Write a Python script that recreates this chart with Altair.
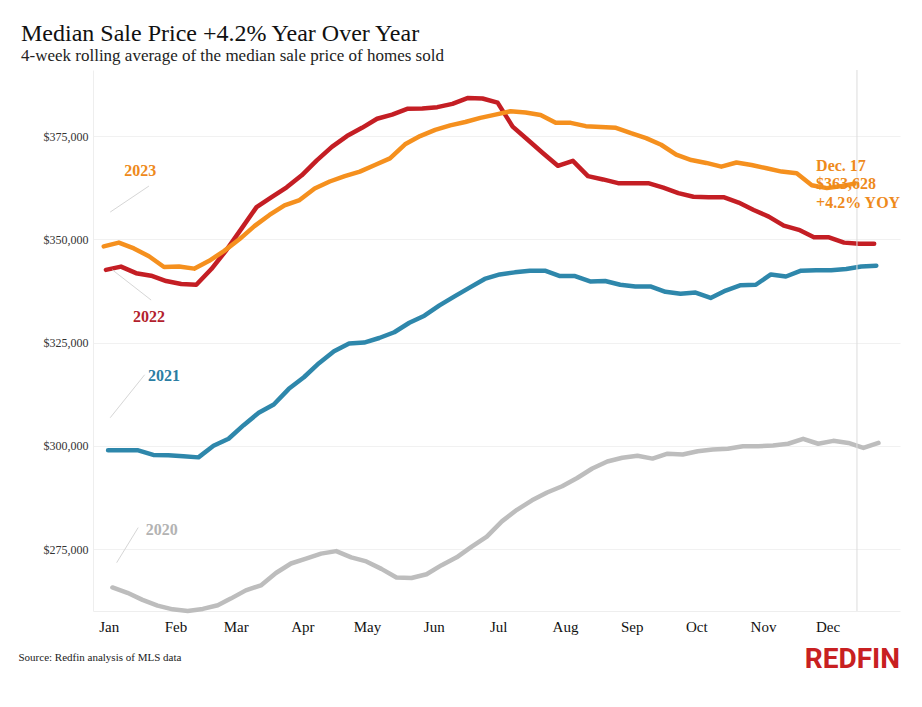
import altair as alt
import pandas as pd

# ---------------- data ----------------
years = ["2020", "2021", "2022", "2023"]
first_weeks = ["2020-01-05", "2021-01-03", "2022-01-02", "2023-01-01"]
line_colors = ["#BDBDBD", "#2E87AB", "#C41E24", "#F5901E"]
label_colors = ["#B3B3B3", "#2A7DA3", "#B31F2E", "#EE8A1B"]

# weekly 4-week rolling median sale price, thousands of dollars
price_2020_k = [265.7, 264.4, 262.7, 261.3, 260.4, 260.0, 260.5, 261.4, 263.0, 265.0,
                266.2, 269.2, 271.5, 272.7, 273.9, 274.5, 273.0, 272.0, 270.2, 268.1,
                268.0, 268.9, 271.1, 273.0, 275.6, 278.0, 281.7, 284.5, 286.8, 288.7,
                290.2, 292.2, 294.5, 296.2, 297.1, 297.6, 296.9, 298.1, 297.9, 298.7,
                299.1, 299.3, 299.9, 299.9, 300.1, 300.5, 301.7, 300.5, 301.2, 300.7,
                299.5, 300.7]
price_2021_k = [298.9, 298.9, 298.9, 297.8, 297.7, 297.5, 297.2, 300.0, 301.7, 305.0,
                308.0, 310.0, 313.8, 316.6, 320.0, 322.9, 324.8, 325.0, 326.1, 327.5,
                329.8, 331.5, 334.0, 336.2, 338.3, 340.4, 341.5, 342.0, 342.4, 342.4,
                341.1, 341.1, 339.8, 339.9, 339.0, 338.6, 338.6, 337.3, 336.8, 337.1,
                335.8, 337.6, 338.9, 339.0, 341.5, 341.0, 342.4, 342.5, 342.5, 342.8,
                343.4, 343.6]
price_2022_k = [342.6, 343.4, 341.8, 341.2, 339.9, 339.2, 339.0, 342.8, 347.4, 352.6,
                357.8, 360.2, 362.6, 365.5, 369.1, 372.4, 375.0, 377.0, 379.2, 380.2,
                381.6, 381.7, 382.0, 382.8, 384.2, 384.1, 383.1, 377.3, 374.1, 370.9,
                367.8, 369.0, 365.3, 364.5, 363.6, 363.6, 363.6, 362.5, 361.2, 360.3,
                360.2, 360.2, 358.9, 357.1, 355.5, 353.3, 352.3, 350.5, 350.5, 349.2,
                348.9, 348.9]
price_2023_k = [348.3, 349.2, 347.8, 345.9, 343.3, 343.4, 342.9, 344.8, 347.2, 350.0,
                353.2, 355.9, 358.2, 359.5, 362.3, 364.0, 365.3, 366.4, 368.0, 369.6,
                373.0, 375.0, 376.5, 377.6, 378.4, 379.4, 380.2, 381.0, 380.7, 380.1,
                378.2, 378.2, 377.4, 377.2, 377.0, 375.7, 374.5, 372.9, 370.5, 369.2,
                368.5, 367.6, 368.6, 368.0, 367.2, 366.4, 366.0, 363.1, 362.4, 362.9,
                363.6]
series_k = [price_2020_k, price_2021_k, price_2022_k, price_2023_k]

# year labels with leader lines (positions in chart data space)
label_dates = ["2023-01-28", "2023-01-29", "2023-01-22", "2023-01-18"]
label_values = [279700, 317000, 331200, 366500]
leader_start_dates = ["2023-01-07", "2023-01-04", "2023-01-05", "2023-01-04"]
leader_start_values = [271700, 306800, 342600, 356600]
leader_end_dates = ["2023-01-17", "2023-01-20", "2023-01-23", "2023-01-22"]
leader_end_values = [280200, 317200, 335300, 362900]

# Dec. 17 callout
callout_date = "2023-12-17"
callout_text = ["Dec. 17", "$363,628", "+4.2% YOY"]
callout_text_date = "2023-11-28"
callout_text_values = [367700, 363400, 358800]

y_ticks = [275000, 300000, 325000, 350000, 375000]

# ---------------- tables ----------------
rows = []
for yr, start, vals in zip(years, first_weeks, series_k):
    dates = pd.date_range(start, periods=len(vals), freq="7D")
    for d, v in zip(dates, vals):
        rows.append({"year": yr, "date": d.replace(year=2023), "price": v * 1000})
df = pd.DataFrame(rows)

labels_df = pd.DataFrame({"year": years, "date": pd.to_datetime(label_dates), "price": label_values})
leaders_df = pd.DataFrame({
    "year": years,
    "date": pd.to_datetime(leader_start_dates), "price": leader_start_values,
    "d2": pd.to_datetime(leader_end_dates), "v2": leader_end_values,
})
callout_df = pd.DataFrame({"text": callout_text,
                           "date": pd.to_datetime([callout_text_date] * 3),
                           "price": callout_text_values})
rule_df = pd.DataFrame({"date": pd.to_datetime([callout_date])})

# ---------------- scales / axes ----------------
FONT = "Liberation Serif"
xscale = alt.Scale(domain=[alt.DateTime(year=2022, month=12, date=27),
                           alt.DateTime(year=2024, month=1, date=6)])
yscale = alt.Scale(domain=[260000, 391000], nice=False, zero=False)

xaxis = alt.Axis(values=[alt.DateTime(year=2023, month=m, date=1) for m in range(1, 13)],
                 format="%b", labelFont=FONT, labelFontSize=15, labelColor="#111",
                 labelPadding=8, labelOffset=5, ticks=False, grid=False,
                 domainColor="#eeeeee",
                 title="Source: Redfin analysis of MLS data", titleFont=FONT,
                 titleFontSize=11, titleFontWeight="normal", titleColor="#222",
                 titleAnchor="start", titleAlign="left", titleBaseline="middle",
                 titleX=-75, titleY=46)
yaxis = alt.Axis(values=y_ticks, format="$,.0f", labelFont=FONT, labelFontSize=12,
                 labelColor="#333", labelPadding=5, ticks=False, grid=True,
                 gridColor="#f1f1f1", domainColor="#eeeeee", title=None)

X = alt.X("date:T", scale=xscale, axis=xaxis, title="Source: Redfin analysis of MLS data")
Y = alt.Y("price:Q", scale=yscale, axis=yaxis, title=None)

rule = alt.Chart(rule_df).mark_rule(color="#dcdcdc", strokeWidth=1).encode(x=X)

leaders = alt.Chart(leaders_df).mark_rule(color="#d6d6d6", strokeWidth=1).encode(
    x=X, x2="d2:T", y=Y, y2="v2:Q")

year_labels = alt.Chart(labels_df).mark_text(
    font=FONT, fontSize=16, fontWeight="bold", align="center", baseline="middle"
).encode(
    x=X, y=Y, text="year:N",
    color=alt.Color("year:N", scale=alt.Scale(domain=years, range=label_colors), legend=None))

callout = alt.Chart(callout_df).mark_text(
    font=FONT, fontSize=16, fontWeight="bold", align="left", baseline="middle",
    color="#EE8A1B"
).encode(x=X, y=Y, text="text:N")

lines = alt.Chart(df).mark_line(strokeWidth=4.5, strokeCap="round", strokeJoin="round").encode(
    x=X, y=Y,
    color=alt.Color("year:N", scale=alt.Scale(domain=years, range=line_colors), legend=None),
    order=alt.Order("date:T"))

logo = alt.Chart(pd.DataFrame({"t": ["REDFIN"]})).mark_text(
    font="Roboto", fontSize=28, fontWeight="bold", align="right", baseline="middle",
    color="#C82021"
).encode(x=alt.value(807), y=alt.value(590), text="t:N")

chart = alt.layer(lines, rule, leaders, year_labels, callout, logo).resolve_scale(
    color="independent"
).properties(
    width=807, height=541,
    background="white",
    autosize=alt.AutoSizeParams(type="none"),
    padding={"left": 85, "top": 62, "right": 12, "bottom": 80},
    title=alt.TitleParams(
        text="Median Sale Price +4.2% Year Over Year",
        subtitle="4-week rolling average of the median sale price of homes sold",
        anchor="start", frame="group", dx=-72, offset=6,
        font=FONT, fontSize=24, fontWeight="normal", color="#111",
        subtitleFont=FONT, subtitleFontSize=17, subtitleColor="#222", subtitlePadding=2),
).configure_view(strokeWidth=0, stroke="transparent")

chart.save("out.html", embed_options={"renderer": "svg", "actions": False})
